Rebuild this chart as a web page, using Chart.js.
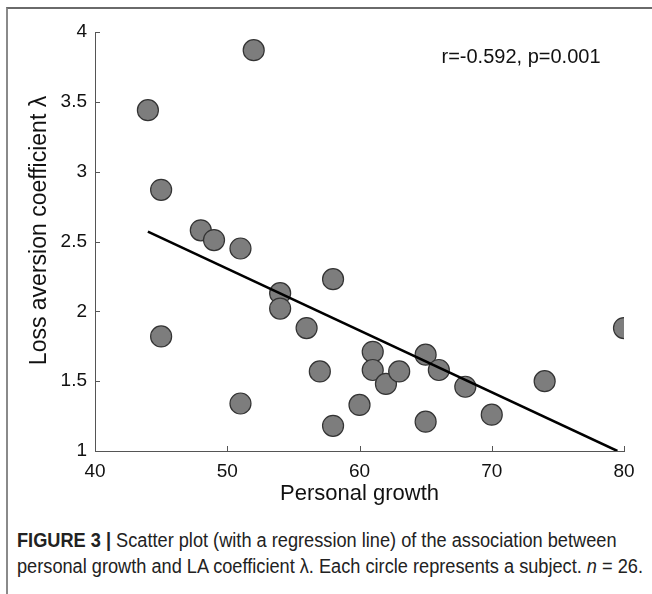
<!DOCTYPE html>
<html>
<head>
<meta charset="utf-8">
<script src="https://cdn.jsdelivr.net/npm/chart.js@4"></script>
<style>
  html, body { margin: 0; padding: 0; background: #fff; }
  body { width: 652px; height: 594px; position: relative; overflow: hidden; }
  #frame { position: absolute; left: 6px; top: 7px; width: 660px; height: 600px;
           border-left: 2px solid #8a8a8a; border-top: 2px solid #6a6a6a; }
  #wrap { position: absolute; left: 0; top: 0; width: 652px; height: 520px; }
  #caption { position: absolute; left: 17px; top: 527px; font-family: "Liberation Sans", Arial, sans-serif;
             font-size: 20px; line-height: 26px; color: #222; white-space: nowrap; }
  #caption div { display: inline-block; transform-origin: 0 50%; }
  #caption b { font-weight: bold; }
</style>
</head>
<body>
<div id="frame"></div>
<div id="wrap"><canvas id="c" width="652" height="520"></canvas></div>
<div id="caption">
  <div id="cap1"><b>FIGURE 3 |</b> Scatter plot (with a regression line) of the association between</div><br>
  <div id="cap2">personal growth and LA coefficient λ. Each circle represents a subject. <i>n</i> = 26.</div>
</div>
<script>
// Data
const personalGrowth = [44, 52, 45, 48, 49, 51, 45, 54, 54, 56, 58, 57, 51, 58, 60, 61, 61, 62, 63, 65, 65, 66, 68, 70, 74, 80];
const lossAversion   = [3.44, 3.87, 2.87, 2.58, 2.51, 2.45, 1.82, 2.13, 2.02, 1.88, 2.23, 1.57, 1.34, 1.18, 1.33, 1.71, 1.58, 1.48, 1.57, 1.69, 1.21, 1.58, 1.46, 1.26, 1.50, 1.88];
const regressionX = [44, 79.5];
const regressionY = [2.57, 1.0];
const xTicks = [40, 50, 60, 70, 80];
const yTicks = [1, 1.5, 2, 2.5, 3, 3.5, 4];
const annotationText = 'r=-0.592, p=0.001';
const annotationPos = { x: 66.2, y: 3.82 };
const yTitleText = 'Loss aversion coefficient λ';

const FONT = '"Liberation Sans", Arial, sans-serif';

// condense caption lines to the reference width
(function () {
  const c2 = document.getElementById('cap2');
  const c1 = document.getElementById('cap1');
  const k = 626 / c2.getBoundingClientRect().width;
  c1.style.transform = 'scaleX(' + k + ')';
  c2.style.transform = 'scaleX(' + k + ')';
})();

const scatterPoints = personalGrowth.map((x, i) => ({ x: x, y: lossAversion[i] }));
const linePoints = regressionX.map((x, i) => ({ x: x, y: regressionY[i] }));

const inwardTicks = {
  id: 'inwardTicks',
  afterDraw(chart) {
    const ctx = chart.ctx;
    const xs = chart.scales.x, ys = chart.scales.y;
    const area = chart.chartArea;
    ctx.save();
    ctx.strokeStyle = '#555';
    ctx.lineWidth = 1;
    ctx.beginPath();
    xTicks.forEach(v => {
      const px = Math.round(xs.getPixelForValue(v)) + 0.5;
      ctx.moveTo(px, area.bottom);
      ctx.lineTo(px, area.bottom - 5);
    });
    yTicks.forEach(v => {
      const py = Math.round(ys.getPixelForValue(v)) + 0.5;
      ctx.moveTo(area.left, py);
      ctx.lineTo(area.left + 5, py);
    });
    ctx.stroke();
    // annotation
    ctx.fillStyle = '#111';
    ctx.font = '20px ' + FONT;
    ctx.textAlign = 'left';
    ctx.textBaseline = 'middle';
    ctx.fillText(annotationText, xs.getPixelForValue(annotationPos.x), ys.getPixelForValue(annotationPos.y));
    // y-axis title (rotated), slightly above the axis centre as in the reference
    ctx.translate(40, (area.top + area.bottom) / 2 - 11);
    ctx.rotate(-Math.PI / 2);
    ctx.font = '23px ' + FONT;
    ctx.textAlign = 'center';
    ctx.textBaseline = 'middle';
    ctx.fillText(yTitleText, 0, 0);
    ctx.restore();
  }
};

new Chart(document.getElementById('c'), {
  data: {
    datasets: [
      {
        type: 'line',
        data: linePoints,
        borderColor: '#000',
        borderWidth: 2.5,
        pointRadius: 0,
        fill: false,
        order: 0
      },
      {
        type: 'scatter',
        data: scatterPoints,
        backgroundColor: '#7d7d7d',
        borderColor: '#333',
        borderWidth: 1.2,
        pointRadius: 10.5,
        order: 1
      }
    ]
  },
  options: {
    responsive: false,
    animation: false,
    devicePixelRatio: 1,
    layout: { padding: { left: 27, right: 28, top: 32, bottom: 13 } },
    plugins: { legend: { display: false }, tooltip: { enabled: false } },
    scales: {
      x: {
        type: 'linear',
        min: 40, max: 80,
        afterBuildTicks: s => { s.ticks = xTicks.map(v => ({ value: v })); },
        afterFit: s => { s.height = 56; },
        grid: { display: true, drawOnChartArea: false, drawTicks: false },
        border: { display: true, color: '#555', width: 1 },
        ticks: { color: '#111', font: { family: FONT, size: 19 }, padding: 9, maxRotation: 0, callback: v => String(v) },
        title: { display: true, text: 'Personal growth', color: '#111', font: { family: FONT, size: 22 }, padding: { top: 0, bottom: 0 } }
      },
      y: {
        type: 'linear',
        min: 1, max: 4,
        afterBuildTicks: s => { s.ticks = yTicks.map(v => ({ value: v })); },
        afterFit: s => { s.width = 68; },
        grid: { display: true, drawOnChartArea: false, drawTicks: false },
        border: { display: true, color: '#555', width: 1 },
        ticks: { color: '#111', font: { family: FONT, size: 19 }, padding: 8, callback: v => String(v) },
        title: { display: false }
      }
    }
  },
  plugins: [inwardTicks]
});
</script>
</body>
</html>
